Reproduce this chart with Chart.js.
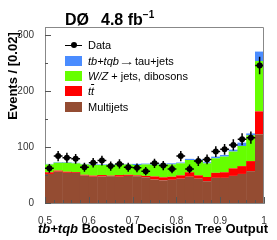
<!DOCTYPE html>
<html>
<head>
<meta charset="utf-8">
<script src="https://cdn.jsdelivr.net/npm/chart.js@4.4.1/dist/chart.umd.min.js"></script>
<style>
body { margin: 0; background: #fff; }
#wrap { position: relative; width: 277px; height: 240px; font-family: "Liberation Sans", Arial, sans-serif; color: #000; }
canvas { position: absolute; left: 0; top: 0; }
.t { position: absolute; white-space: nowrap; }
.title { left: 65px; top: 8px; font-size: 16px; line-height: 16px; font-weight: bold; }
.title sup { font-size: 10px; position: relative; top: -1px; }
.ytitle { left: 11.5px; top: 76px; font-size: 13px; font-weight: bold; transform: translate(-50%, -50%) rotate(-90deg); }
.xtitle { left: 153px; top: 221px; font-size: 13px; line-height: 15px; font-weight: bold; transform: translateX(-50%); }
.leg { position: absolute; left: 65px; height: 14px; display: flex; align-items: center; font-size: 11px; line-height: 14px; white-space: nowrap; }
.box { display: inline-block; width: 17px; height: 10px; margin-right: 6px; }
.mk { display: inline-block; position: relative; width: 17px; height: 10px; margin-right: 6px; }
.mk:before { content: ""; position: absolute; left: 0; right: 0; top: 4.5px; height: 1.5px; background: #000; }
.mk:after { content: ""; position: absolute; left: 5.5px; top: 2px; width: 6px; height: 6px; border-radius: 50%; background: #000; }
.arr { display: inline-block; width: 16px; text-align: center; transform: scaleX(1.5); }
</style>
</head>
<body>
<div id="wrap">
  <canvas id="bdt" width="277" height="240"></canvas>
  <div class="t title">D&Oslash;<span style="margin-left:12px">4.8 fb</span><sup>&minus;1</sup></div>
  <div class="t ytitle">Events / [0.02]</div>
  <div class="t xtitle"><i>tb+tqb</i> Boosted Decision Tree Output</div>
  <div class="leg" style="top:38px"><span class="mk"></span>Data</div>
  <div class="leg" style="top:53.5px"><span class="box" style="background:#4a8cff"></span><i>tb+tqb</i><span class="arr">&rarr;</span>tau+jets</div>
  <div class="leg" style="top:69px"><span class="box" style="background:#66ff00"></span><i>W/Z</i>&nbsp;+ jets, dibosons</div>
  <div class="leg" style="top:84px"><span class="box" style="background:#ff0000"></span><i>t<span style="text-decoration:overline">t</span></i></div>
  <div class="leg" style="top:99.5px"><span class="box" style="background:#944c32"></span>Multijets</div>
</div>
<script>
var binCenters = [0.51, 0.53, 0.55, 0.57, 0.59, 0.61, 0.63, 0.65, 0.67, 0.69, 0.71, 0.73, 0.75,
                  0.77, 0.79, 0.81, 0.83, 0.85, 0.87, 0.89, 0.91, 0.93, 0.95, 0.97, 0.99]
var multijets = [52, 56, 54, 54, 49, 47, 47.5, 48, 47, 48.5, 48, 46, 42,
                 40.5, 41.5, 43.5, 47, 43.5, 39, 45, 45, 48.5, 52, 57, 123]
var ttbar = [3, 2, 2, 1.5, 1.5, 2, 2.5, 1, 3, 2, 1.5, 2.5, 5.5,
             5.5, 5.5, 6, 8, 6, 7.5, 9, 10, 13.5, 14, 18, 41]
var wzJets = [14, 14, 16, 15.5, 18.5, 19, 18, 19.5, 18.5, 18.5, 18.5, 20.5, 21,
              23, 22, 21.5, 22, 26.5, 24.5, 26, 28, 30, 36, 46, 90]
var signal = [1, 1, 1, 1, 1, 1, 1, 1, 1, 1, 2, 1.5, 1.5,
              1.5, 2, 1.5, 2, 2, 2, 3, 3, 3.5, 6, 3.5, 17]
var dataCounts = [62, 84, 81, 79, 64, 72, 76, 66, 70, 64, 63, 57, 71,
                  67, 61, 84, 61, 75, 78, 92, 96, 104, 114, 117, 246]
var dataErrors = [7.9, 9.2, 9, 8.9, 8, 8.5, 8.7, 8.1, 8.4, 8, 7.9, 7.5, 8.4,
                  8.2, 7.8, 9.2, 7.8, 8.7, 8.8, 9.6, 9.8, 10.2, 10.7, 10.8, 15.7]
var xTicks = [0.5, 0.6, 0.7, 0.8, 0.9, 1]
var yTicks = [0, 100, 200, 300]

var binHalf = 0.01
var axisColor = '#888'

function pts(vals) {
  return vals.map(function (v, i) { return { x: binCenters[i], y: v } })
}

function hist(label, vals, color) {
  return {
    type: 'bar', label: label, data: pts(vals), backgroundColor: color,
    borderWidth: 0, barPercentage: 1.06, categoryPercentage: 1, order: 1
  }
}

// error bars and frame with inward ticks, ROOT style
var rootStyle = {
  id: 'rootStyle',
  afterDatasetsDraw: function (chart) {
    var ctx = chart.ctx, x = chart.scales.x, y = chart.scales.y
    ctx.save()
    ctx.strokeStyle = '#000'
    ctx.lineWidth = 1.5
    dataCounts.forEach(function (v, i) {
      var px = x.getPixelForValue(binCenters[i]), py = y.getPixelForValue(v)
      ctx.beginPath()
      ctx.moveTo(px, y.getPixelForValue(v - dataErrors[i]))
      ctx.lineTo(px, y.getPixelForValue(v + dataErrors[i]))
      ctx.moveTo(x.getPixelForValue(binCenters[i] - binHalf), py)
      ctx.lineTo(x.getPixelForValue(binCenters[i] + binHalf), py)
      ctx.stroke()
    })
    ctx.restore()
  },
  afterDraw: function (chart) {
    var ctx = chart.ctx, a = chart.chartArea, x = chart.scales.x, y = chart.scales.y
    ctx.save()
    ctx.strokeStyle = axisColor
    ctx.lineWidth = 1
    ctx.beginPath()
    ctx.moveTo(Math.round(a.left) + 0.5, Math.round(a.top) + 0.5)
    ctx.lineTo(Math.round(a.right) - 0.5, Math.round(a.top) + 0.5)
    ctx.lineTo(Math.round(a.right) - 0.5, Math.round(a.bottom))
    ctx.stroke()
    ctx.strokeStyle = '#555'
    ctx.beginPath()
    for (var yv = 0; yv <= 310; yv += 50) {
      var py = Math.round(y.getPixelForValue(yv)) + 0.5
      var len = yv % 100 === 0 ? 6 : 3
      ctx.moveTo(a.left, py)
      ctx.lineTo(a.left + len, py)
    }
    for (var k = 0; k <= 25; k++) {
      var px = Math.round(x.getPixelForValue(0.5 + k * 0.02)) + 0.5
      var l2 = k % 5 === 0 ? 6 : 3
      ctx.moveTo(px, a.bottom)
      ctx.lineTo(px, a.bottom - l2)
    }
    ctx.stroke()
    ctx.restore()
  }
}

Chart.defaults.font.family = '"Liberation Sans", Arial, sans-serif'

new Chart(document.getElementById('bdt'), {
  data: {
    datasets: [
      {
        type: 'line', label: 'Data', data: pts(dataCounts), showLine: false,
        pointRadius: 3, pointHoverRadius: 3, pointBackgroundColor: '#000', pointBorderWidth: 0, order: 0
      },
      hist('Multijets', multijets, '#944c32'),
      hist('ttbar', ttbar, '#ff0000'),
      hist('W/Z + jets, dibosons', wzJets, '#66ff00'),
      hist('tb+tqb->tau+jets', signal, '#4a8cff')
    ]
  },
  options: {
    responsive: false,
    animation: false,
    layout: { padding: { left: 0, top: 27, right: 13, bottom: 0 } },
    plugins: { legend: { display: false }, tooltip: { enabled: false } },
    scales: {
      x: {
        type: 'linear', stacked: true, offset: false, min: 0.5, max: 1,
        grid: { display: false, offset: false },
        border: { display: true, color: axisColor, width: 1 },
        afterBuildTicks: function (s) { s.ticks = xTicks.map(function (v) { return { value: v } }) },
        afterFit: function (s) { s.height = 37 },
        ticks: { font: { size: 10 }, color: '#333', padding: 4, maxRotation: 0,
                 callback: function (v) { return String(v) } }
      },
      y: {
        stacked: true, min: 0, max: 315,
        grid: { display: false },
        border: { display: true, color: axisColor, width: 1 },
        afterBuildTicks: function (s) { s.ticks = yTicks.map(function (v) { return { value: v } }) },
        afterFit: function (s) { s.width = 45 },
        ticks: { font: { size: 10 }, color: '#333', padding: 3 }
      }
    }
  },
  plugins: [rootStyle]
})
</script>
</body>
</html>
